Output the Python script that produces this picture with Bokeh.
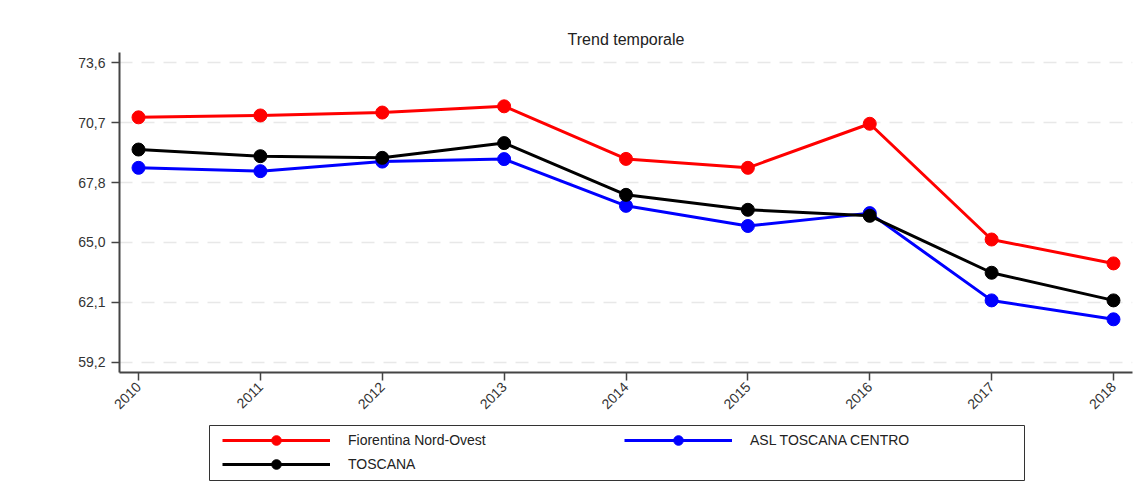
from bokeh.plotting import figure
from bokeh.models import Range1d, FixedTicker, Legend, LegendItem, Spacer
from bokeh.layouts import column, row
from bokeh.embed import file_html
from bokeh.resources import INLINE
import math

years = [2010, 2011, 2012, 2013, 2014, 2015, 2016, 2017, 2018]
fiorentina = [70.98, 71.07, 71.21, 71.51, 68.98, 68.55, 70.67, 65.10, 63.95]
asl_centro = [68.55, 68.39, 68.85, 68.97, 66.72, 65.75, 66.37, 62.17, 61.26]
toscana = [69.43, 69.11, 69.03, 69.74, 67.25, 66.53, 66.24, 63.50, 62.17]
y_ticks = [59.2, 62.08, 64.96, 67.84, 70.72, 73.6]
y_tick_labels = ["59,2", "62,1", "65,0", "67,8", "70,7", "73,6"]
series_names = ["Fiorentina Nord-Ovest", "ASL TOSCANA CENTRO", "TOSCANA"]
colors = ["#ff0000", "#0000ff", "#000000"]

FONT = "Liberation Sans"

p = figure(width=1140, height=420, output_backend="svg", toolbar_location=None,
           x_range=Range1d(2009.844, 2018.156), y_range=Range1d(58.70, 74.10),
           title="Trend temporale")
p.min_border_left = 119
p.min_border_top = 52
p.min_border_right = 8
p.min_border_bottom = 48
p.outline_line_color = None
p.background_fill_color = "white"
p.border_fill_color = "white"

p.title.align = "center"
p.title.text_font = FONT
p.title.text_font_size = "16px"
p.title.text_font_style = "normal"
p.title.text_color = "#222222"

p.xgrid.grid_line_color = None
p.ygrid.grid_line_color = "#e8e8e8"
p.ygrid.grid_line_dash = "13 9"
p.ygrid.grid_line_width = 1.5

for ax in (p.xaxis[0], p.yaxis[0]):
    ax.axis_line_color = "#444444"
    ax.axis_line_width = 2
    ax.major_tick_line_color = "#444444"
    ax.major_tick_line_width = 1.5
    ax.major_tick_out = 8
    ax.major_tick_in = 0
    ax.minor_tick_line_color = None
    ax.major_label_text_font = FONT
    ax.major_label_text_font_size = "14px"
    ax.major_label_text_color = "#333333"

p.xaxis[0].ticker = FixedTicker(ticks=years)
p.xaxis[0].major_label_orientation = math.pi / 4
p.xaxis[0].major_label_standoff = 4
p.yaxis[0].ticker = FixedTicker(ticks=y_ticks)
p.yaxis[0].major_label_overrides = {t: l for t, l in zip(y_ticks, y_tick_labels)}
p.yaxis[0].major_label_standoff = 6

data = [fiorentina, asl_centro, toscana]
for vals, c in zip(data, colors):
    p.line(years, vals, line_color=c, line_width=3)
    p.scatter(years, vals, size=13, fill_color=c, line_color=c)

# legend panel: a small figure whose frame outline is the legend box.
# Its renderers use the same series but lie outside its (0..1) view, so only
# their legend glyphs are visible.
lf = figure(width=817, height=57, output_backend="svg", toolbar_location=None,
            x_range=Range1d(0, 1), y_range=Range1d(0, 1))
lf.min_border_left = 1
lf.min_border_right = 1
lf.min_border_top = 1
lf.min_border_bottom = 1
lf.axis.visible = False
lf.grid.visible = False
lf.outline_line_color = "#333333"
lf.outline_line_width = 1
lf.background_fill_color = "white"
lf.border_fill_color = "white"

items = []
for name, vals, c in zip(series_names, data, colors):
    l = lf.line(years, vals, line_color=c, line_width=3)
    s = lf.scatter(years, vals, size=13, fill_color=c, line_color=c)
    items.append(LegendItem(label=name, renderers=[l, s]))

legend = Legend(items=items, location=(13, 4), orientation="horizontal", ncols=2)
legend.glyph_width = 108
legend.glyph_height = 24
legend.label_height = 24
legend.label_width = 276
legend.label_standoff = 18
legend.spacing = 0
legend.padding = 0
legend.margin = 0
legend.label_text_font = FONT
legend.label_text_font_size = "14px"
legend.label_text_color = "#222222"
legend.border_line_color = None
legend.background_fill_alpha = 0
lf.add_layout(legend, "center")

layout = column(p, Spacer(height=4), row(Spacer(width=208), lf))
open("out.html", "w").write(file_html(layout, INLINE))
